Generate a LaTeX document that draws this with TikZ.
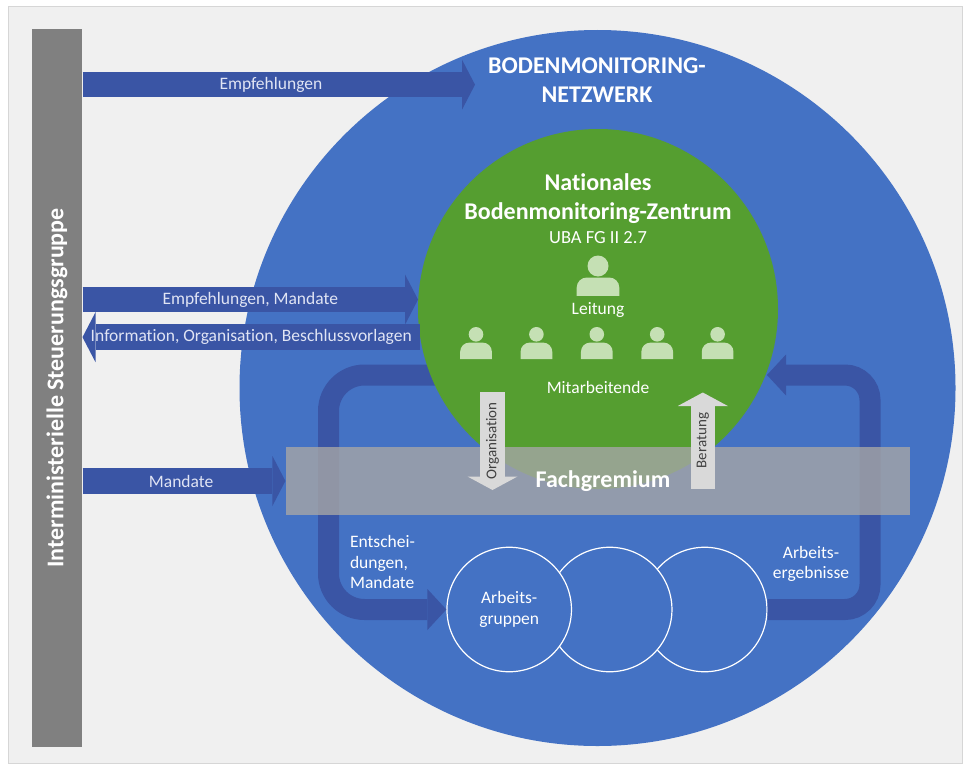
\documentclass[tikz,border=0pt]{standalone}
\usepackage{fontspec}
\setmainfont{Carlito}[Ligatures=NoCommon]
\usepackage{tikz}
\usetikzlibrary{arrows.meta,shapes.geometric}
\definecolor{panelgray}{RGB}{240,240,240}
\definecolor{framegray}{RGB}{214,214,214}
\definecolor{bargray}{RGB}{128,128,128}
\definecolor{netzblue}{RGB}{68,114,196}
\definecolor{arrowblue}{RGB}{58,85,165}
\definecolor{zentgreen}{RGB}{85,158,48}
\definecolor{icongreen}{RGB}{197,224,180}
\definecolor{bandgray}{RGB}{166,166,166}
\definecolor{paleblue}{RGB}{224,228,244}
\definecolor{pfeilgray}{RGB}{217,217,217}
\definecolor{darktext}{RGB}{64,64,64}
% x, y (head centre), head radius, body width, body height
\newcommand{\nbzperson}[5]{%
  \fill[icongreen] (#1,#2) circle (#3pt);
  \fill[icongreen] ({#1-#4/2},{#2+#3+1+#5}) -- ({#1-#4/2},{#2+#3+1+0.55*#5})
    arc[start angle=180,end angle=90,radius={0.55*#5pt}]
    -- ({#1+#4/2-0.55*#5},{#2+#3+1})
    arc[start angle=90,end angle=0,radius={0.55*#5pt}]
    -- ({#1+#4/2},{#2+#3+1+#5}) -- cycle;}

\begin{document}
\begin{tikzpicture}[x=1pt,y=-1pt,
  fat/.style={draw=arrowblue,line width=25.6pt,-{Triangle[length=13pt,width=50pt,line width=0pt 0 0]}},
  loopline/.style={draw=arrowblue,line width=21pt,-{Triangle[length=19pt,width=41pt,line width=0pt 0 0]}},
  smallarr/.style={draw=pfeilgray,line width=24.5pt,-{Triangle[length=13.5pt,width=50pt,line width=0pt 0 0]}},
  arrtext/.style={text=paleblue,font=\fontsize{17.5}{20.5}\selectfont},
  plain/.style={text=white,font=\fontsize{17.5}{20.5}\selectfont,align=center},
  headtext/.style={text=white,font=\bfseries\fontsize{24}{29}\selectfont,align=center},
  agroup/.style={circle,fill=netzblue,draw=white,line width=1.2pt,minimum size=124.5pt,inner sep=0pt}]

\fill[white] (0,0) rectangle (965,765);
\filldraw[fill=panelgray,draw=framegray,line width=1pt] (8,7) rectangle (962,763);

\node (bar) [fill=bargray,minimum width=50.6pt,minimum height=717.7pt,inner sep=0pt] at (57,387.9) {};
\node[headtext,rotate=90] (bartext) at (bar.center) {Interministerielle Steuerungsgruppe};

\node (netz) [circle,fill=netzblue,minimum size=716pt,inner sep=0pt] at (597.5,388) {};
\node[headtext] (netztext) at (597,80.5) {BODENMONITORING-\\NETZWERK};

\coordinate (empftip) at (475,84.7);
\draw[fat] (bar.east |- empftip) -- (empftip) node[arrtext,pos=0.48] (empftext) {Empfehlungen};

% Arbeitsgruppen, the first one lies on top
\node[agroup] (ag3) at (704.7,609.5) {};
\node[agroup] (ag2) at (609.7,609.5) {};
\node[agroup,plain] (ag1) at (509.2,609.5) {Arbeits-\\gruppen};

\coordinate (ltail) at (480,375);
\coordinate (lturn) at (328.5,609.5);
\draw[loopline,rounded corners=36pt] (ltail) -| (lturn) -- (ag1.west);
\coordinate (rturn) at (870,375);
\coordinate (rtip) at (767,375);
\draw[loopline,rounded corners=25pt] (ag3.east) -| (rturn) -- (rtip);

\node (zentrum) [circle,fill=zentgreen,minimum size=360pt,inner sep=0pt] at (598,309) {};

\draw[fat] (bar.east |- zentrum.177) -- (zentrum.177) node[arrtext,midway] (empfmandtext) {Empfehlungen, Mandate};
\draw[fat] (zentrum.189.7) -- (bar.east |- zentrum.189.7) node[arrtext,midway] (infotext) {Information, Organisation, Beschlussvorlagen};

\node (gremium) [fill=bandgray,fill opacity=0.8,minimum width=624.4pt,minimum height=68pt,inner sep=0pt] at (597.8,481) {};
\draw[fat] (bar.east |- gremium.west) -- (gremium.west) node[arrtext,pos=0.486] (mandtext) {Mandate};

\coordinate (orgtop) at (492.5,392);
\coordinate (orgtip) at (492.5,490);
\draw[smallarr] (orgtop) -- (orgtip) node[midway,rotate=90,text=darktext,font=\fontsize{15}{18}\selectfont] (orgtext) {Organisation};
\coordinate (bertail) at (702.8,488.5);
\coordinate (bertip) at (702.8,392.5);
\draw[smallarr] (bertail) -- (bertip) node[midway,rotate=90,text=darktext,font=\fontsize{15}{18}\selectfont] (bertext) {Beratung};

\node[headtext] (gremtext) at (603,481) {Fachgremium};

\node[headtext] (zenttitle) at (598,198.5) {Nationales\\Bodenmonitoring-Zentrum};
\node[plain,font=\fontsize{18.5}{21}\selectfont] (uba) at (598,238) {UBA FG II 2.7};
\nbzperson{598}{266}{10.5}{42.6}{18.3}
\node[plain] (leitung) at (598,310) {Leitung};
\foreach \px in {476,536.4,596.8,657.2,717.6}
  {\nbzperson{\px}{334.3}{7.3}{31.7}{16.6}}
\node[plain] (mitarb) at (598,387.7) {Mitarbeitende};

\node[plain,align=left,anchor=west] (entsch) at (346.5,562) {Entschei-\\dungen,\\Mandate};
\node[plain] (ergeb) at (811,564) {Arbeits-\\ergebnisse};
\end{tikzpicture}
\end{document}
